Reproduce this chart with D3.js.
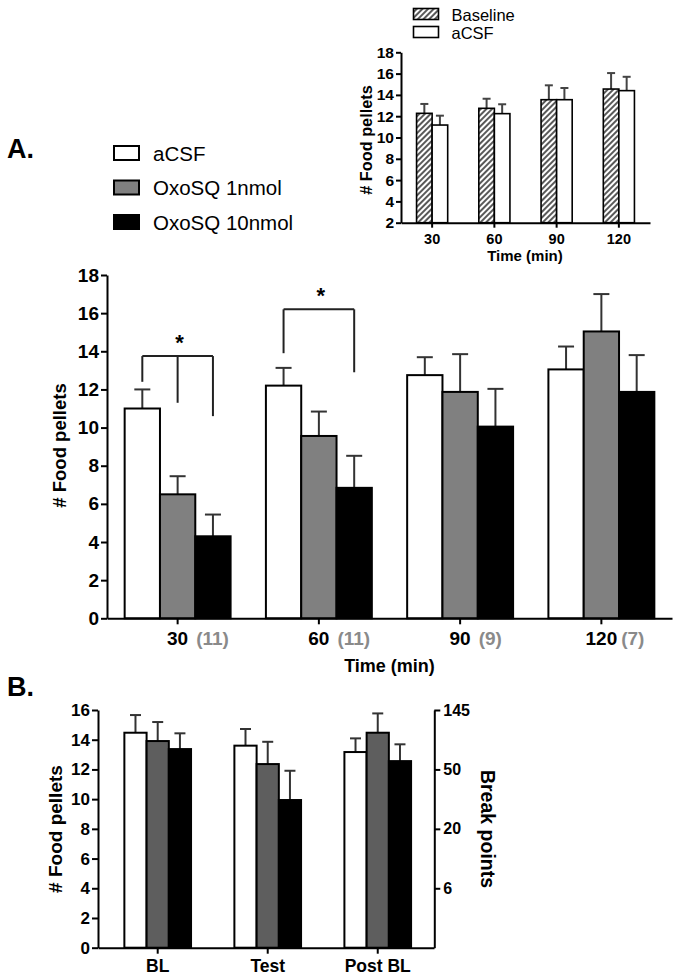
<!DOCTYPE html>
<html><head><meta charset="utf-8">
<script src="https://cdn.jsdelivr.net/npm/d3@7"></script>
<style>
html,body{margin:0;padding:0;background:#fff;}
svg{display:block;font-family:"Liberation Sans",Arial,Helvetica,sans-serif;}
</style></head>
<body><svg id="chart" width="680" height="979"></svg>
<script>
// ---------- DATA ----------
// Panel A (main)
const timeCategories = ["30", "60", "90", "120"];
const timeN = ["(11)", "(11)", "(9)", "(7)"];
const seriesNames = ["aCSF", "OxoSQ 1nmol", "OxoSQ 10nmol"];
const acsfMean  = [11.0, 12.2, 12.75, 13.05];
const acsfErr   = [1.0, 0.93, 0.94, 1.2];
const oxo1Mean  = [6.5, 9.56, 11.87, 15.04];
const oxo1Err   = [0.95, 1.28, 1.98, 1.96];
const oxo10Mean = [4.3, 6.84, 10.05, 11.87];
const oxo10Err  = [1.14, 1.68, 1.98, 1.93];
const mainYTicks = [0, 2, 4, 6, 8, 10, 12, 14, 16, 18];
// significance brackets: group, top of bracket, legs (series index, lower end)
const sigGroups = ["30", "60"];
const sigTops = [13.75, 16.2];
const sigLegSeries = [[0, 1, 2], [0, 2]];
const sigLegEnds = [[12.4, 11.3, 10.6], [13.9, 12.9]];

// Inset
const insetSeries = ["Baseline", "aCSF"];
const baselineMean = [12.27, 12.74, 13.55, 14.55];
const baselineErr  = [0.88, 0.9, 1.35, 1.5];
const insetAcsfMean = [11.17, 12.24, 13.55, 14.4];
const insetAcsfErr  = [0.88, 0.88, 1.1, 1.3];
const insetYTicks = [2, 4, 6, 8, 10, 12, 14, 16, 18];

// Panel B
const phaseCategories = ["BL", "Test", "Post BL"];
const bAcsfMean  = [14.47, 13.6, 13.17];
const bAcsfErr   = [1.19, 1.12, 0.92];
const bOxo1Mean  = [13.91, 12.36, 14.47];
const bOxo1Err   = [1.28, 1.5, 1.3];
const bOxo10Mean = [13.37, 9.94, 12.56];
const bOxo10Err  = [1.06, 1.97, 1.13];
const bYTicks = [0, 2, 4, 6, 8, 10, 12, 14, 16];
const prPellets = [4, 8, 12, 16];        // pellets earned
const prBreakPoints = [6, 20, 50, 145];  // corresponding break point

// ---------- DRAW ----------
const svg = d3.select("#chart");
const FONT = '"Liberation Sans",Arial,Helvetica,sans-serif';
const defs = svg.append("defs");
const pat = defs.append("pattern").attr("id", "hatch").attr("patternUnits", "userSpaceOnUse")
  .attr("width", 4).attr("height", 4).attr("patternTransform", "rotate(45)");
pat.append("rect").attr("width", 4).attr("height", 4).attr("fill", "#fff");
pat.append("line").attr("x1", 1).attr("y1", 0).attr("x2", 1).attr("y2", 4)
  .attr("stroke", "#000").attr("stroke-width", 1.3);

function styleAxis(g, fs) {
  g.selectAll("path.domain").attr("stroke", "#000").attr("stroke-width", 2);
  g.selectAll(".tick line").attr("stroke", "#000").attr("stroke-width", 2);
  g.selectAll(".tick text").attr("font-family", FONT).attr("font-weight", "bold")
    .attr("font-size", fs).attr("fill", "#000");
}

function drawBars(g, x, xs, y, cats, means, errs, fills, capW, barStroke, errColor) {
  means.forEach((m, si) => {
    cats.forEach((c, i) => {
      const bx = x(c) + xs(si);
      const bw = xs.bandwidth();
      const cx = bx + bw / 2;
      g.append("line").attr("x1", cx).attr("x2", cx)
        .attr("y1", y(m[i])).attr("y2", y(m[i] + errs[si][i]))
        .attr("stroke", errColor).attr("stroke-width", 2);
      g.append("line").attr("x1", cx - capW / 2).attr("x2", cx + capW / 2)
        .attr("y1", y(m[i] + errs[si][i])).attr("y2", y(m[i] + errs[si][i]))
        .attr("stroke", errColor).attr("stroke-width", 2);
    });
  });
  means.forEach((m, si) => {
    cats.forEach((c, i) => {
      const bx = x(c) + xs(si);
      const bw = xs.bandwidth();
      g.append("rect").attr("x", bx).attr("width", bw)
        .attr("y", y(m[i])).attr("height", y.range()[0] - y(m[i]))
        .attr("fill", fills[si]).attr("stroke", "#000").attr("stroke-width", barStroke);
    });
  });
}

// ===== Panel A main =====
{
  const x = d3.scaleBand().domain(timeCategories).range([107, 672]).paddingInner(0.25).paddingOuter(0.125);
  const xs = d3.scaleBand().domain([0, 1, 2]).range([0, x.bandwidth()]);
  const y = d3.scaleLinear().domain([0, 18]).range([618.3, 275]);
  const g = svg.append("g");
  drawBars(g, x, xs, y, timeCategories, [acsfMean, oxo1Mean, oxo10Mean],
    [acsfErr, oxo1Err, oxo10Err], ["#fff", "#808080", "#000"], 16, 2, "#333");

  const ya = g.append("g").attr("transform", "translate(107,0)")
    .call(d3.axisLeft(y).tickValues(mainYTicks).tickSize(6).tickSizeOuter(0).tickPadding(2));
  styleAxis(ya, 19);
  const xa = g.append("g").attr("transform", "translate(0,618.3)")
    .call(d3.axisBottom(x).tickSize(6).tickSizeOuter(0).tickFormat(""));
  styleAxis(xa, 19);

  timeCategories.forEach((c, i) => {
    const cx = x(c) + x.bandwidth() / 2;
    const t = g.append("text").attr("x", cx).attr("y", 645).attr("text-anchor", "middle")
      .attr("font-family", FONT).attr("font-weight", "bold").attr("font-size", 19).text(c);
    const w = t.node().getComputedTextLength();
    g.append("text").attr("x", cx + w / 2 + (c.length > 2 ? 4 : 8)).attr("y", 645)
      .attr("font-family", FONT).attr("font-weight", "bold").attr("font-size", 19)
      .attr("fill", "#8a8a8a").text(timeN[i]);
  });
  g.append("text").attr("x", 389.5).attr("y", 672).attr("text-anchor", "middle")
    .attr("font-family", FONT).attr("font-weight", "bold").attr("font-size", 18).text("Time (min)");
  g.append("text").attr("transform", "translate(60,445.5) rotate(-90)").attr("dy", "0.35em")
    .attr("text-anchor", "middle").attr("font-family", FONT).attr("font-weight", "bold")
    .attr("font-size", 18.5).text("# Food pellets");

  // significance brackets
  sigGroups.forEach((grp, k) => {
    const xsPos = sigLegSeries[k].map(s => x(grp) + xs(s) + xs.bandwidth() / 2);
    const yTop = y(sigTops[k]);
    g.append("line").attr("x1", d3.min(xsPos)).attr("x2", d3.max(xsPos))
      .attr("y1", yTop).attr("y2", yTop).attr("stroke", "#222").attr("stroke-width", 2);
    sigLegSeries[k].forEach((s, j) => {
      g.append("line").attr("x1", xsPos[j]).attr("x2", xsPos[j])
        .attr("y1", yTop).attr("y2", y(sigLegEnds[k][j])).attr("stroke", "#222").attr("stroke-width", 2);
    });
    g.append("text").attr("x", x(grp) + x.bandwidth() / 2 + 2).attr("y", yTop - 6)
      .attr("text-anchor", "middle").attr("font-family", FONT).attr("font-weight", "bold")
      .attr("font-size", 22).text("*");
  });

  // legend
  const lg = svg.append("g");
  const lgFills = ["#fff", "#808080", "#000"];
  const lgTops = [146, 180.5, 215];
  seriesNames.forEach((n, i) => {
    lg.append("rect").attr("x", 114).attr("y", lgTops[i]).attr("width", 25).attr("height", 14)
      .attr("fill", lgFills[i]).attr("stroke", "#000").attr("stroke-width", 2);
    lg.append("text").attr("x", 153).attr("y", lgTops[i] + 14.5).attr("font-family", FONT)
      .attr("font-size", 20.5).text(n);
  });
  svg.append("text").attr("x", 7).attr("y", 158).attr("font-family", FONT).attr("font-weight", "bold")
    .attr("font-size", 27).text("A.");
}

// ===== Inset =====
{
  const x = d3.scaleBand().domain(timeCategories).range([401, 650]).paddingInner(0.5).paddingOuter(0.25);
  const xs = d3.scaleBand().domain([0, 1]).range([0, x.bandwidth()]);
  const y = d3.scaleLinear().domain([2, 18]).range([222.7, 52.3]);
  const g = svg.append("g");
  drawBars(g, x, xs, y, timeCategories, [baselineMean, insetAcsfMean], [baselineErr, insetAcsfErr],
    ["url(#hatch)", "#fff"], 8, 1.6, "#444");
  const ya = g.append("g").attr("transform", "translate(401,0)")
    .call(d3.axisLeft(y).tickValues(insetYTicks).tickSize(5).tickSizeOuter(0).tickPadding(2));
  styleAxis(ya, 15.5);
  const xa = g.append("g").attr("transform", "translate(0,222.7)")
    .call(d3.axisBottom(x).tickSize(5).tickSizeOuter(0));
  styleAxis(xa, 14.5);
  xa.selectAll(".tick text").attr("dy", 0).attr("y", 21.3);
  g.append("text").attr("x", 525).attr("y", 260.5).attr("text-anchor", "middle")
    .attr("font-family", FONT).attr("font-weight", "bold").attr("font-size", 15).text("Time (min)");
  g.append("text").attr("transform", "translate(366.7,140) rotate(-90)").attr("dy", "0.35em")
    .attr("text-anchor", "middle").attr("font-family", FONT).attr("font-weight", "bold")
    .attr("font-size", 16.3).text("# Food pellets");
  const fills = ["url(#hatch)", "#fff"];
  const tops = [8.5, 26.5];
  insetSeries.forEach((n, i) => {
    g.append("rect").attr("x", 413.5).attr("y", tops[i]).attr("width", 25).attr("height", 11)
      .attr("fill", fills[i]).attr("stroke", "#000").attr("stroke-width", 1.6);
    g.append("text").attr("x", 451.5).attr("y", tops[i] + 12).attr("font-family", FONT)
      .attr("font-size", 16.5).text(n);
  });
}

// ===== Panel B =====
{
  const x = d3.scaleBand().domain(phaseCategories).range([98, 434])
    .paddingInner(0.394).paddingOuter(0.224).align(0.535);
  const xs = d3.scaleBand().domain([0, 1, 2]).range([0, x.bandwidth()]);
  const y = d3.scaleLinear().domain([0, 16]).range([947.7, 710]);
  const g = svg.append("g");
  drawBars(g, x, xs, y, phaseCategories, [bAcsfMean, bOxo1Mean, bOxo10Mean],
    [bAcsfErr, bOxo1Err, bOxo10Err], ["#fff", "#5e5e5e", "#000"], 11, 2, "#333");
  const ya = g.append("g").attr("transform", "translate(98,0)")
    .call(d3.axisLeft(y).tickValues(bYTicks).tickSize(6).tickSizeOuter(0).tickPadding(2));
  styleAxis(ya, 17);
  const prMap = d3.scaleOrdinal().domain(prPellets).range(prBreakPoints);
  const yr = g.append("g").attr("transform", "translate(434.3,0)")
    .call(d3.axisRight(y).tickValues(prPellets).tickSize(6).tickSizeOuter(0).tickPadding(3)
      .tickFormat(d => prMap(d)));
  styleAxis(yr, 16);
  const xa = g.append("g").attr("transform", "translate(0,947.7)")
    .call(d3.axisBottom(x).tickSize(6).tickSizeOuter(0).tickPadding(7));
  styleAxis(xa, 17.5);
  xa.selectAll(".tick text").attr("dy", 0).attr("y", 24);
  g.append("text").attr("transform", "translate(55,829) rotate(-90)").attr("dy", "0.35em")
    .attr("text-anchor", "middle").attr("font-family", FONT).attr("font-weight", "bold")
    .attr("font-size", 19).text("# Food pellets");
  g.append("text").attr("transform", "translate(488,829) rotate(90)").attr("dy", "0.35em")
    .attr("text-anchor", "middle").attr("font-family", FONT).attr("font-weight", "bold")
    .attr("font-size", 19.5).text("Break points");
  svg.append("text").attr("x", 7).attr("y", 696).attr("font-family", FONT).attr("font-weight", "bold")
    .attr("font-size", 27).text("B.");
}
</script></body></html>
